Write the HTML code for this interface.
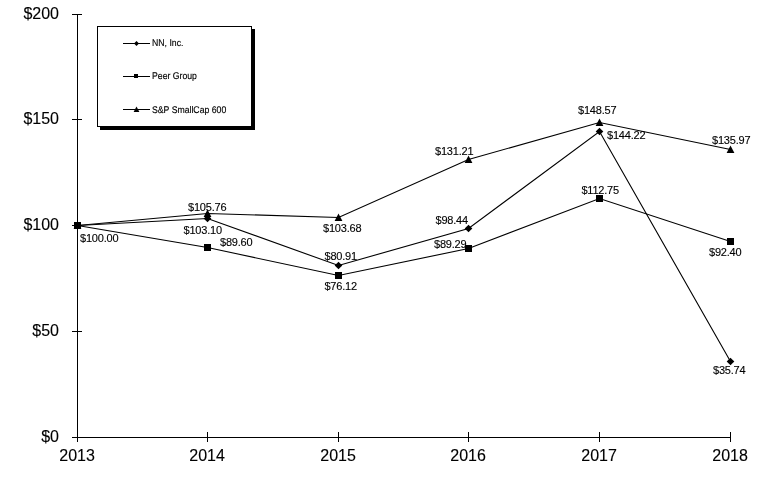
<!DOCTYPE html>
<html lang="en"><head><meta charset="utf-8"><title>Stock Performance Chart</title>
<style>html,body{margin:0;padding:0;background:#fff}body{width:781px;height:478px;overflow:hidden}svg{display:block}text{font-family:"Liberation Sans",Arial,Helvetica,sans-serif;fill:#000}.ax{font-size:16px;stroke:#000;stroke-width:0.12px}.dl{font-size:11px;letter-spacing:-0.2px;stroke:#000;stroke-width:0.12px}.lg{font-size:9.7px;text-rendering:geometricPrecision;stroke:#000;stroke-width:0.15px}</style></head><body>
<svg width="781" height="478" viewBox="0 0 781 478">
<rect width="781" height="478" fill="#fff"/>
<g fill="#000" shape-rendering="crispEdges">
<rect x="77" y="14" width="1" height="428"/>
<rect x="72" y="437" width="659" height="1"/>
<rect x="72" y="331" width="10" height="1"/>
<rect x="72" y="225" width="10" height="1"/>
<rect x="72" y="119" width="10" height="1"/>
<rect x="72" y="14" width="10" height="1"/>
<rect x="207" y="432" width="1" height="10"/>
<rect x="338" y="432" width="1" height="10"/>
<rect x="468" y="432" width="1" height="10"/>
<rect x="599" y="432" width="1" height="10"/>
<rect x="730" y="432" width="1" height="10"/>
</g>
<text class="ax" x="59" y="441.8" text-anchor="end">$0</text>
<text class="ax" x="59" y="335.8" text-anchor="end">$50</text>
<text class="ax" x="59" y="229.8" text-anchor="end">$100</text>
<text class="ax" x="59" y="123.8" text-anchor="end">$150</text>
<text class="ax" x="59" y="18.8" text-anchor="end">$200</text>
<text class="ax" x="77.1" y="460.8" text-anchor="middle">2013</text>
<text class="ax" x="207.1" y="460.8" text-anchor="middle">2014</text>
<text class="ax" x="338.1" y="460.8" text-anchor="middle">2015</text>
<text class="ax" x="468.1" y="460.8" text-anchor="middle">2016</text>
<text class="ax" x="599.1" y="460.8" text-anchor="middle">2017</text>
<text class="ax" x="730.1" y="460.8" text-anchor="middle">2018</text>
<rect x="100" y="29" width="155" height="101" fill="#000" shape-rendering="crispEdges"/>
<rect x="97.5" y="26.5" width="154" height="100" fill="#fff" stroke="#000" stroke-width="1" shape-rendering="crispEdges"/>
<g stroke="#000" stroke-width="1.1" fill="none">
<polyline points="77.50,225.50 207.50,218.50 338.50,265.50 468.50,228.50 599.50,131.50 730.50,361.50"/>
<polyline points="77.50,225.50 207.50,247.50 338.50,275.50 468.50,248.50 599.50,198.50 730.50,241.50"/>
<polyline points="77.50,225.50 207.50,213.50 338.50,217.50 468.50,159.50 599.50,122.50 730.50,149.50"/>
</g>
<g fill="#000">
<path d="M77.50 221.70L81.30 225.50L77.50 229.30L73.70 225.50Z"/>
<path d="M207.50 214.70L211.30 218.50L207.50 222.30L203.70 218.50Z"/>
<path d="M338.50 261.70L342.30 265.50L338.50 269.30L334.70 265.50Z"/>
<path d="M468.50 224.70L472.30 228.50L468.50 232.30L464.70 228.50Z"/>
<path d="M599.50 127.70L603.30 131.50L599.50 135.30L595.70 131.50Z"/>
<path d="M730.50 357.70L734.30 361.50L730.50 365.30L726.70 361.50Z"/>
<rect x="74.00" y="222.00" width="7.0" height="7.0"/>
<rect x="204.00" y="244.00" width="7.0" height="7.0"/>
<rect x="335.00" y="272.00" width="7.0" height="7.0"/>
<rect x="465.00" y="245.00" width="7.0" height="7.0"/>
<rect x="596.00" y="195.00" width="7.0" height="7.0"/>
<rect x="727.00" y="238.00" width="7.0" height="7.0"/>
<path d="M77.50 221.40L81.40 229.00L73.60 229.00Z"/>
<path d="M207.50 209.40L211.40 217.00L203.60 217.00Z"/>
<path d="M338.50 213.40L342.40 221.00L334.60 221.00Z"/>
<path d="M468.50 155.40L472.40 163.00L464.60 163.00Z"/>
<path d="M599.50 118.40L603.40 126.00L595.60 126.00Z"/>
<path d="M730.50 145.40L734.40 153.00L726.60 153.00Z"/>
</g>
<g fill="#000" shape-rendering="crispEdges">
<rect x="123" y="43" width="27" height="1"/>
<rect x="123" y="76" width="27" height="1"/>
<rect x="123" y="109" width="27" height="1"/>
</g><g fill="#000">
<path d="M136.50 41.00L139.00 43.50L136.50 46.00L134.00 43.50Z"/>
<rect x="134" y="74" width="4" height="4"/>
<path d="M136.50 106.40L139.40 112.00L133.60 112.00Z"/>
</g>
<text class="lg" transform="translate(152,45.8) scale(0.897,1)">NN, Inc.</text>
<text class="lg" transform="translate(152,78.8) scale(0.897,1)">Peer Group</text>
<text class="lg" transform="translate(152,112.8) scale(0.897,1)">S&amp;P SmallCap 600</text>
<text class="dl" x="80" y="242">$100.00</text>
<text class="dl" x="188" y="210.8">$105.76</text>
<text class="dl" x="183.5" y="234">$103.10</text>
<text class="dl" x="220" y="246">$89.60</text>
<text class="dl" x="324.5" y="260">$80.91</text>
<text class="dl" x="324.4" y="290">$76.12</text>
<text class="dl" x="323" y="231.6">$103.68</text>
<text class="dl" x="435.5" y="224.3">$98.44</text>
<text class="dl" x="434" y="247.5">$89.29</text>
<text class="dl" x="435" y="155">$131.21</text>
<text class="dl" x="578" y="113.9">$148.57</text>
<text class="dl" x="607" y="139">$144.22</text>
<text class="dl" x="581.4" y="194">$112.75</text>
<text class="dl" x="712" y="144">$135.97</text>
<text class="dl" x="709" y="256">$92.40</text>
<text class="dl" x="713" y="374">$35.74</text>
</svg></body></html>
